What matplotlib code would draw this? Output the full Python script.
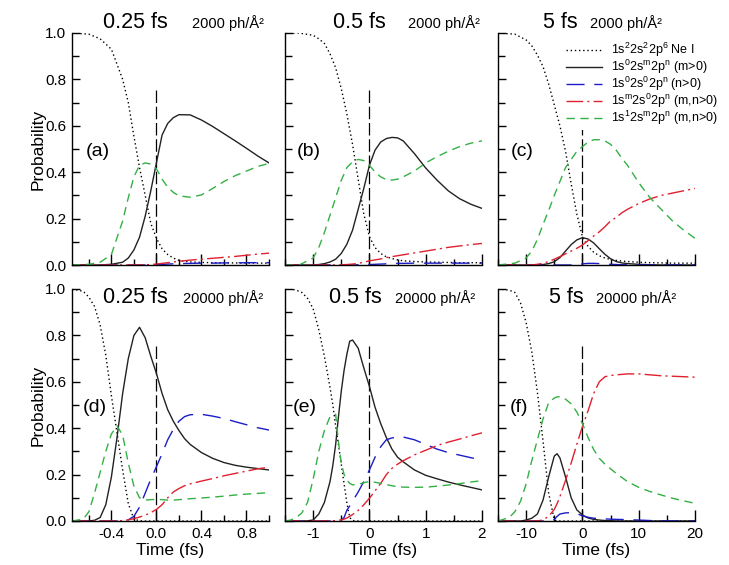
import matplotlib
matplotlib.use("Agg")
import matplotlib.pyplot as plt

plt.rcParams['font.family'] = ['Liberation Sans', 'DejaVu Sans']
plt.rcParams['mathtext.fontset'] = 'custom'
plt.rcParams['mathtext.rm'] = 'Liberation Sans'
plt.rcParams['mathtext.it'] = 'Liberation Sans:italic'
plt.rcParams['mathtext.bf'] = 'Liberation Sans:bold'
plt.rcParams['axes.unicode_minus'] = False

# ---------------- populations vs time ----------------
# (a) 0.25 fs, 2000 ph/A^2
a_t = [-0.75, -0.6, -0.5, -0.4, -0.3, -0.25, -0.2, -0.15, -0.1, -0.05, 0, 0.05, 0.1, 0.15, 0.2,
       0.3, 0.4, 0.5, 0.6, 0.7, 0.8, 0.9, 1.0]
a_ne = [1.0, 0.995, 0.975, 0.93, 0.80, 0.70, 0.555, 0.42, 0.30, 0.18, 0.115, 0.07, 0.045, 0.03, 0.02,
        0.013, 0.011, 0.01, 0.009, 0.009, 0.008, 0.008, 0.008]
a_s0 = [0, 0, 0, 0.003, 0.012, 0.03, 0.065, 0.12, 0.21, 0.32, 0.44, 0.56, 0.61, 0.635, 0.648,
        0.647, 0.625, 0.597, 0.566, 0.535, 0.503, 0.47, 0.44]
a_p0 = [0, 0, 0, 0, 0, 0, 0, 0, 0, 0, 0.001, 0.002, 0.004, 0.005, 0.006,
        0.007, 0.008, 0.008, 0.009, 0.009, 0.01, 0.01, 0.01]
a_mn = [0, 0, 0, 0, 0, 0, 0, 0, 0.001, 0.002, 0.004, 0.007, 0.01, 0.013, 0.016,
        0.021, 0.025, 0.029, 0.033, 0.037, 0.042, 0.047, 0.051]
a_s1 = [0, 0.003, 0.012, 0.045, 0.19, 0.29, 0.38, 0.43, 0.44, 0.435, 0.415, 0.37, 0.335, 0.313, 0.298,
        0.292, 0.302, 0.33, 0.36, 0.385, 0.405, 0.425, 0.438]

# (b) 0.5 fs, 2000 ph/A^2
b_t = [-1.5, -1.25, -1.0, -0.9, -0.8, -0.7, -0.6, -0.5, -0.4, -0.3, -0.2, -0.1, 0, 0.1, 0.2, 0.3,
       0.4, 0.5, 0.6, 0.8, 1.0, 1.2, 1.4, 1.6, 1.8, 2.0]
b_ne = [1.0, 1.0, 0.99, 0.975, 0.955, 0.91, 0.85, 0.76, 0.65, 0.52, 0.37, 0.22, 0.122, 0.075, 0.05, 0.035,
        0.028, 0.022, 0.018, 0.015, 0.013, 0.012, 0.011, 0.01, 0.01, 0.01]
b_s0 = [0, 0, 0, 0.002, 0.006, 0.013, 0.025, 0.05, 0.09, 0.15, 0.24, 0.33, 0.43, 0.495, 0.53, 0.545,
        0.55, 0.548, 0.535, 0.48, 0.418, 0.366, 0.32, 0.286, 0.262, 0.244]
b_p0 = [0, 0, 0, 0, 0, 0, 0, 0, 0, 0, 0.001, 0.001, 0.002, 0.003, 0.004, 0.005,
        0.006, 0.007, 0.007, 0.008, 0.008, 0.008, 0.008, 0.008, 0.008, 0.008]
b_mn = [0, 0, 0, 0, 0, 0, 0, 0.001, 0.002, 0.004, 0.007, 0.012, 0.018, 0.022, 0.026, 0.032,
        0.036, 0.04, 0.044, 0.052, 0.06, 0.068, 0.076, 0.082, 0.088, 0.093]
b_s1 = [0, 0, 0.03, 0.075, 0.14, 0.215, 0.29, 0.365, 0.42, 0.445, 0.455, 0.45, 0.43, 0.40, 0.38, 0.368,
        0.366, 0.37, 0.38, 0.405, 0.44, 0.467, 0.49, 0.51, 0.525, 0.535]

# (c) 5 fs, 2000 ph/A^2
c_t = [-15, -12, -10, -9, -8, -7, -6, -5, -4, -3, -2, -1, 0, 1, 2, 3, 4, 5, 6, 7, 8,
       10, 12, 14, 16, 18, 20]
c_ne = [1.0, 0.995, 0.97, 0.945, 0.905, 0.855, 0.78, 0.69, 0.6, 0.49, 0.35, 0.22, 0.122, 0.08, 0.055,
        0.04, 0.03, 0.024, 0.02, 0.017, 0.015, 0.012, 0.01, 0.009, 0.008, 0.008, 0.008]
c_s0 = [0, 0, 0, 0, 0, 0.002, 0.006, 0.014, 0.032, 0.06, 0.088, 0.108, 0.118, 0.112, 0.095,
        0.07, 0.046, 0.027, 0.015, 0.009, 0.006, 0.003, 0.001, 0, 0, 0, 0]
c_p0 = [0, 0, 0, 0, 0, 0, 0, 0, 0, 0, 0, 0.002, 0.005, 0.007, 0.007,
        0.006, 0.004, 0.003, 0.002, 0.001, 0.001, 0, 0, 0, 0, 0, 0]
c_mn = [0, 0, 0, 0, 0.003, 0.007, 0.015, 0.025, 0.036, 0.048, 0.06, 0.072, 0.086, 0.105, 0.125,
        0.143, 0.165, 0.19, 0.205, 0.225, 0.24, 0.265, 0.285, 0.30, 0.31, 0.32, 0.33]
c_s1 = [0, 0.008, 0.03, 0.06, 0.11, 0.175, 0.235, 0.30, 0.36, 0.42, 0.455, 0.49, 0.51, 0.53, 0.54,
        0.54, 0.535, 0.52, 0.495, 0.46, 0.43, 0.355, 0.29, 0.24, 0.19, 0.15, 0.115]

# (d) 0.25 fs, 20000 ph/A^2
d_t = [-0.75, -0.65, -0.6, -0.55, -0.5, -0.45, -0.4, -0.35, -0.3, -0.25, -0.2, -0.15, -0.1, -0.05,
       0, 0.05, 0.1, 0.15, 0.2, 0.25, 0.3, 0.4, 0.5, 0.6, 0.7, 0.8, 0.9, 1.0]
d_ne = [1.0, 0.99, 0.965, 0.925, 0.845, 0.715, 0.54, 0.38, 0.22, 0.075, 0.008, 0.001, 0, 0,
        0, 0, 0, 0, 0, 0, 0, 0, 0, 0, 0, 0, 0, 0]
d_s0 = [0, 0, 0, 0.003, 0.015, 0.07, 0.19, 0.36, 0.55, 0.70, 0.80, 0.835, 0.79, 0.71,
        0.636, 0.55, 0.48, 0.43, 0.39, 0.355, 0.33, 0.295, 0.27, 0.252, 0.24, 0.232, 0.226, 0.22]
d_p0 = [0, 0, 0, 0, 0, 0, 0, 0, 0, 0.005, 0.02, 0.06, 0.12, 0.18,
        0.234, 0.29, 0.35, 0.395, 0.43, 0.45, 0.458, 0.46, 0.452, 0.442, 0.428, 0.415, 0.402, 0.392]
d_mn = [0, 0, 0, 0, 0, 0, 0, 0, 0.002, 0.005, 0.01, 0.017, 0.025, 0.036,
        0.05, 0.07, 0.10, 0.125, 0.14, 0.152, 0.16, 0.172, 0.183, 0.195, 0.205, 0.215, 0.225, 0.232]
d_s1 = [0, 0.008, 0.04, 0.12, 0.21, 0.30, 0.375, 0.41, 0.37, 0.25, 0.15, 0.10, 0.09, 0.092,
        0.093, 0.092, 0.09, 0.09, 0.092, 0.094, 0.096, 0.099, 0.103, 0.107, 0.112, 0.116, 0.119, 0.122]

# (e) 0.5 fs, 20000 ph/A^2
e_t = [-1.5, -1.4, -1.3, -1.2, -1.1, -1.0, -0.9, -0.8, -0.7, -0.65, -0.6, -0.55, -0.5, -0.45, -0.4,
       -0.35, -0.3, -0.2, -0.1, 0, 0.1, 0.2, 0.3, 0.4, 0.5, 0.6, 0.8, 1.0, 1.2, 1.4, 1.6, 1.8, 2.0]
e_ne = [1.0, 1.0, 0.995, 0.985, 0.96, 0.915, 0.825, 0.71, 0.575, 0.50, 0.41, 0.33, 0.245, 0.16, 0.076,
        0.015, 0.002, 0, 0, 0, 0, 0, 0, 0, 0, 0, 0, 0, 0, 0, 0, 0, 0]
e_s0 = [0, 0, 0, 0, 0.001, 0.004, 0.03, 0.08, 0.17, 0.24, 0.33, 0.45, 0.56, 0.65, 0.72,
        0.775, 0.78, 0.745, 0.66, 0.58, 0.49, 0.42, 0.36, 0.31, 0.275, 0.255, 0.22, 0.197, 0.182,
        0.168, 0.156, 0.145, 0.134]
e_p0 = [0, 0, 0, 0, 0, 0, 0, 0, 0, 0, 0, 0, 0.004, 0.015, 0.047,
        0.065, 0.085, 0.125, 0.17, 0.22, 0.275, 0.32, 0.35, 0.358, 0.362, 0.362, 0.35, 0.33, 0.31,
        0.295, 0.284, 0.273, 0.263]
e_mn = [0, 0, 0, 0, 0, 0, 0, 0, 0, 0.001, 0.002, 0.003, 0.005, 0.008, 0.013,
        0.02, 0.028, 0.045, 0.07, 0.098, 0.13, 0.162, 0.20, 0.227, 0.245, 0.26, 0.285, 0.305, 0.325,
        0.34, 0.353, 0.367, 0.38]
e_s1 = [0, 0.004, 0.015, 0.035, 0.08, 0.18, 0.30, 0.39, 0.45, 0.455, 0.46, 0.34, 0.25, 0.20, 0.177,
        0.162, 0.156, 0.158, 0.165, 0.17, 0.167, 0.162, 0.157, 0.152, 0.148, 0.146, 0.145, 0.146, 0.15,
        0.155, 0.161, 0.168, 0.174]

# (f) 5 fs, 20000 ph/A^2
f_t = [-15, -13, -12, -11, -10, -9, -8, -7, -6, -5, -4.5, -4, -3, -2, -1, 0, 1, 2, 3, 4, 5, 6,
       8, 10, 12, 14, 16, 18, 20]
f_ne = [1.0, 0.995, 0.985, 0.94, 0.855, 0.73, 0.555, 0.345, 0.12, 0.005, 0, 0, 0, 0, 0, 0, 0, 0,
        0, 0, 0, 0, 0, 0, 0, 0, 0, 0, 0]
f_s0 = [0, 0, 0, 0, 0.004, 0.012, 0.03, 0.09, 0.19, 0.28, 0.29, 0.272, 0.19, 0.10, 0.048, 0.026,
        0.013, 0.007, 0.004, 0.002, 0.001, 0, 0, 0, 0, 0, 0, 0, 0]
f_p0 = [0, 0, 0, 0, 0, 0, 0, 0, 0, 0.006, 0.02, 0.03, 0.035, 0.036, 0.032, 0.022,
        0.016, 0.012, 0.01, 0.009, 0.008, 0.007, 0.006, 0.004, 0.002, 0.001, 0, 0, 0]
f_mn = [0, 0, 0, 0, 0, 0, 0, 0.005, 0.02, 0.05, 0.075, 0.105, 0.175, 0.25, 0.33, 0.407,
        0.475, 0.55, 0.60, 0.622, 0.627, 0.63, 0.634, 0.634, 0.63, 0.626, 0.624, 0.622, 0.62]
f_s1 = [0, 0.015, 0.04, 0.085, 0.16, 0.26, 0.35, 0.44, 0.51, 0.53, 0.535, 0.536, 0.525, 0.505, 0.47,
        0.42, 0.36, 0.308, 0.27, 0.245, 0.225, 0.205, 0.17, 0.145, 0.127, 0.112, 0.098, 0.087, 0.076]

# axis ticks for each pulse duration
short_major = [-0.4, 0.0, 0.4, 0.8]
short_minor = [-0.6, -0.2, 0.2, 0.6, 1.0]
mid_major = [-1, 0, 1, 2]
mid_minor = [-1.5, -0.5, 0.5, 1.5]
long_major = [-10, 0, 10, 20]
long_minor = [-15, -5, 5, 15]
prob_major = [0.0, 0.2, 0.4, 0.6, 0.8, 1.0]
prob_minor = [0.1, 0.3, 0.5, 0.7, 0.9]

series_labels = [
    r'1s$^{2}$2s$^{2}$2p$^{6}$ Ne I',
    r'1s$^{0}$2s$^{\mathrm{m}}$2p$^{\mathrm{n}}$ (m>0)',
    r'1s$^{0}$2s$^{0}$2p$^{\mathrm{n}}$ (n>0)',
    r'1s$^{\mathrm{m}}$2s$^{0}$2p$^{\mathrm{n}}$ (m,n>0)',
    r'1s$^{1}$2s$^{\mathrm{m}}$2p$^{\mathrm{n}}$ (m,n>0)',
]
series_styles = [
    dict(color='black', linestyle=(0, (1, 2))),
    dict(color='#222222', linestyle='-'),
    dict(color='#1c1cc8', linestyle=(0, (13, 7))),
    dict(color='#e0202e', linestyle=(0, (12, 3, 1.5, 3))),
    dict(color='#34b044', linestyle=(0, (6, 4))),
]

panels = [
    dict(t=a_t, ys=[a_ne, a_s0, a_p0, a_mn, a_s1], xlim=(-0.75, 1.0), major=short_major, minor=short_minor,
         fmt='%.1f', dur='0.25 fs', flu='2000 ph/Å²', tag='(a)', row=0, col=0,
         dur_x=0.157, flu_x=0.609, tag_x=0.071),
    dict(t=b_t, ys=[b_ne, b_s0, b_p0, b_mn, b_s1], xlim=(-1.5, 2.0), major=mid_major, minor=mid_minor,
         fmt='%d', dur='0.5 fs', flu='2000 ph/Å²', tag='(b)', row=0, col=1,
         dur_x=0.244, flu_x=0.624, tag_x=0.061),
    dict(t=c_t, ys=[c_ne, c_s0, c_p0, c_mn, c_s1], xlim=(-15, 20), major=long_major, minor=long_minor,
         fmt='%d', dur='5 fs', flu='2000 ph/Å²', tag='(c)', row=0, col=2,
         dur_x=0.228, flu_x=0.467, tag_x=0.066),
    dict(t=d_t, ys=[d_ne, d_s0, d_p0, d_mn, d_s1], xlim=(-0.75, 1.0), major=short_major, minor=short_minor,
         fmt='%.1f', dur='0.25 fs', flu='20000 ph/Å²', tag='(d)', row=1, col=0,
         dur_x=0.157, flu_x=0.563, tag_x=0.056),
    dict(t=e_t, ys=[e_ne, e_s0, e_p0, e_mn, e_s1], xlim=(-1.5, 2.0), major=mid_major, minor=mid_minor,
         fmt='%d', dur='0.5 fs', flu='20000 ph/Å²', tag='(e)', row=1, col=1,
         dur_x=0.223, flu_x=0.558, tag_x=0.040),
    dict(t=f_t, ys=[f_ne, f_s0, f_p0, f_mn, f_s1], xlim=(-15, 20), major=long_major, minor=long_minor,
         fmt='%d', dur='5 fs', flu='20000 ph/Å²', tag='(f)', row=1, col=2,
         dur_x=0.259, flu_x=0.497, tag_x=0.060),
]

W, H = 729, 565
fig = plt.figure(figsize=(W / 100, H / 100), dpi=100)
col_left = [72, 285, 498]
row_top = [33, 289]
ax_w, ax_h = 197, 232

for p in panels:
    x0 = col_left[p['col']]
    y0 = row_top[p['row']]
    ax = fig.add_axes([x0 / W, 1 - (y0 + ax_h) / H, ax_w / W, ax_h / H])
    handles = []
    for y, st in zip(p['ys'], series_styles):
        ln, = ax.plot(p['t'], y, lw=1.0, **st)
        handles.append(ln)
    ax.axvline(0, ymin=0, ymax=0.76, color='black', lw=0.9, linestyle=(0, (10, 3)), zorder=1)

    ax.set_xlim(*p['xlim'])
    ax.set_ylim(0, 1.0)
    for side in ('top', 'right'):
        ax.spines[side].set_visible(False)
    for side in ('left', 'bottom'):
        ax.spines[side].set_linewidth(1.0)

    ax.set_xticks(p['major'])
    ax.set_xticks(p['minor'], minor=True)
    ax.set_yticks(prob_major)
    ax.set_yticks(prob_minor, minor=True)
    ax.tick_params(axis='x', which='major', direction='in', length=8, width=1.0, labelsize=11, pad=4.5)
    ax.tick_params(axis='x', which='minor', direction='in', length=4.5, width=1.0)
    ax.tick_params(axis='y', which='major', direction='in', length=6, width=1.0, labelsize=11, pad=4)
    ax.tick_params(axis='y', which='minor', direction='in', length=5, width=1.0)

    if p['row'] == 1:
        ax.set_xticklabels([p['fmt'] % v for v in p['major']])
        ax.set_xlabel('Time (fs)', fontsize=12.5, labelpad=1)
    else:
        ax.set_xticklabels([])
    if p['col'] == 0:
        ax.set_yticklabels(['%.1f' % v for v in prob_major])
        ax.set_ylabel('Probability', fontsize=12.5, labelpad=0)
    else:
        ax.set_yticklabels([])

    ty = 1.0216 if p['row'] == 0 else 0.94
    ax.text(p['dur_x'], ty, p['dur'], transform=ax.transAxes, fontsize=15.5,
            ha='left', va='baseline', clip_on=False)
    ax.text(p['flu_x'], ty, p['flu'], transform=ax.transAxes, fontsize=10.5,
            ha='left', va='baseline', clip_on=False)
    ax.text(p['tag_x'], 0.49, p['tag'], transform=ax.transAxes, fontsize=14,
            ha='left', va='center')

    if p['tag'] == '(c)':
        leg = ax.legend(handles, series_labels, loc='upper left', bbox_to_anchor=(0.33, 0.975),
                        borderaxespad=0, borderpad=0.2, frameon=True, facecolor='white',
                        edgecolor='none', framealpha=1.0, fancybox=False, fontsize=9,
                        handlelength=2.9, handletextpad=0.7, labelspacing=-0.1)
        leg.set_zorder(5)

fig.savefig('out.png', dpi=100)
